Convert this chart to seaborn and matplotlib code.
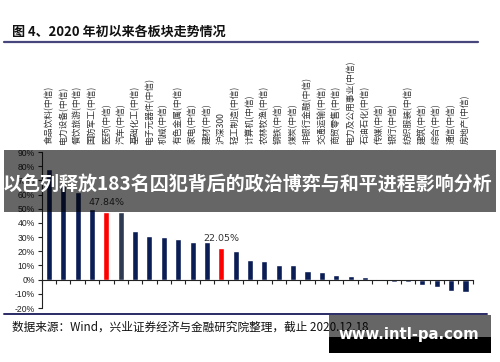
import matplotlib
matplotlib.use("Agg")
import matplotlib.pyplot as plt
import matplotlib.patches as mpatches
import matplotlib.transforms as mtransforms
import seaborn as sns
import pandas as pd
import numpy as np

categories = ["食品饮料(中信)", "电力设备(中信)", "餐饮旅游(中信)", "国防军工(中信)", "医药(中信)",
              "汽车(中信)", "基础化工(中信)", "电子元器件(中信)", "机械(中信)", "有色金属(中信)",
              "家电(中信)", "建材(中信)", "沪深300", "轻工制造(中信)", "计算机(中信)",
              "农林牧渔(中信)", "钢铁(中信)", "煤炭(中信)", "非银行金融(中信)", "交通运输(中信)",
              "商贸零售(中信)", "电力及公用事业(中信)", "石油石化(中信)", "传媒(中信)", "银行(中信)",
              "纺织服装(中信)", "建筑(中信)", "综合(中信)", "通信(中信)", "房地产(中信)"]
values = [78.0, 69.0, 62.0, 49.5, 47.84, 47.5, 34.5, 31.0, 30.0, 29.0,
          26.5, 26.5, 22.05, 20.2, 13.8, 12.9, 10.3, 10.0, 5.9, 5.6,
          3.3, 2.7, 2.0, 0.1, -1.5, -1.5, -3.7, -4.9, -7.9, -8.4]
labelled = {"医药(中信)": "47.84%", "沪深300": "22.05%"}
yticks = [-20, -10, 0, 10, 20, 30, 40, 50, 60, 70, 80, 90]

title = "图 4、2020 年初以来各板块走势情况"
source = "数据来源：Wind，兴业证券经济与金融研究院整理，截止 2020.12.18"
banner = "以色列释放183名囚犯背后的政治博弈与和平进程影响分析"
watermark = "www.intl-pa.com"

NAVY = "#0b1d55"
RED = "#ff0000"
SLATE = "#2e3a52"
colors = []
for c in categories:
    if c in labelled:
        colors.append(RED)
    elif c == "汽车(中信)":
        colors.append(SLATE)
    else:
        colors.append(NAVY)

sns.set_theme(style="white")
plt.rcParams["font.family"] = ["Noto Sans CJK SC", "DejaVu Sans"]

W, H = 500, 362
fig = plt.figure(figsize=(W / 100, H / 100), dpi=100)

def fx(x):
    return x / W

def fy(y):
    return 1 - y / H

ax_left, ax_right = 41.7, 472.7
ax_top, ax_bot = 152.0, 308.0
ax = fig.add_axes([fx(ax_left), fy(ax_bot), fx(ax_right - ax_left), (ax_bot - ax_top) / H])

df = pd.DataFrame({"cat": categories, "val": values})
sns.barplot(data=df, x="cat", y="val", hue="cat", palette=colors, legend=False,
            width=0.42, ax=ax, saturation=1, order=categories, hue_order=categories)

ax.set_xlim(-0.5, len(categories) - 0.5)
ax.set_ylim(-20, 90)
ax.set_xlabel("")
ax.set_ylabel("")
ax.set_yticks(yticks)
ax.set_yticklabels([f"{v}%" for v in yticks], fontsize=6.2, family=["Liberation Sans", "DejaVu Sans"], color="#222222")
ax.set_xticks(np.arange(-0.5, len(categories), 1))
ax.set_xticklabels([])
for s in ["top", "right"]:
    ax.spines[s].set_visible(False)
ax.spines["bottom"].set_position(("data", 0))
ax.spines["left"].set_color("#222222")
ax.spines["bottom"].set_color("#222222")
ax.spines["left"].set_linewidth(0.8)
ax.spines["bottom"].set_linewidth(0.8)
ax.tick_params(axis="both", direction="out", length=3, width=0.8, color="#222222", pad=2,
               bottom=True, left=True)
ax.grid(False)

# category labels above the plot
trans = mtransforms.blended_transform_factory(ax.transData, fig.transFigure)
for i, c in enumerate(categories):
    ax.text(i, fy(144), c, rotation=90, ha="center", va="bottom", fontsize=6.3,
            color="#333333", transform=trans, clip_on=False)

# value labels
for i, c in enumerate(categories):
    if c in labelled:
        ax.text(i, values[i] + 3.5, labelled[c], ha="center", va="bottom", fontsize=6.8,
                family=["DejaVu Sans"], color="#333333")

# header and footer
fig.text(fx(12), fy(32), title, ha="left", va="center", fontsize=9.4, fontweight="bold", color="#111111")
fig.add_artist(plt.Line2D([fx(4), fx(478)], [fy(41.7), fy(41.7)], color="#46467c", lw=1.6))
fig.add_artist(plt.Line2D([fx(4), fx(487)], [fy(314), fy(314)], color="#2a2a66", lw=1.4))
fig.text(fx(12), fy(327), source, ha="left", va="center", fontsize=8.4, color="#111111")

# banner overlay
fig.add_artist(mpatches.Rectangle((fx(4), fy(212)), fx(492), (212 - 150) / H,
                                  transform=fig.transFigure, facecolor="black", alpha=0.6,
                                  edgecolor="none", zorder=10))
fig.text(fx(248), fy(185), banner, ha="center", va="center", fontsize=13.7, fontweight="bold",
         color="white", zorder=11)

# watermark
fig.add_artist(mpatches.Rectangle((fx(329), fy(337)), fx(162), (337 - 315) / H,
                                  transform=fig.transFigure, facecolor="black", alpha=0.6,
                                  edgecolor="none", zorder=10))
fig.add_artist(mpatches.Rectangle((fx(329), fy(353)), fx(162), (353 - 337) / H,
                                  transform=fig.transFigure, facecolor="black",
                                  edgecolor="none", zorder=10))
fig.text(fx(409), fy(334), watermark, ha="center", va="center", fontsize=10.7, fontweight="bold",
         color="white", family=["DejaVu Sans"], zorder=11)

fig.savefig("out.png", dpi=100)
